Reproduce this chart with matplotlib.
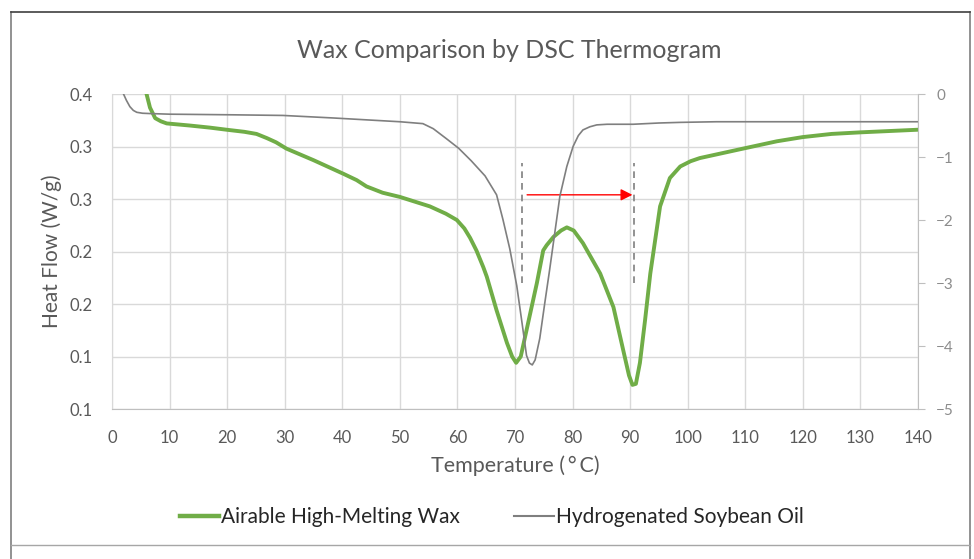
import matplotlib
matplotlib.use("Agg")
import matplotlib.pyplot as plt
from matplotlib.lines import Line2D
from matplotlib.patches import FancyArrowPatch

plt.rcParams['font.family'] = ['Lato', 'DejaVu Sans']

# Airable High-Melting Wax (left axis, W/g)
wax_temp = [5.0, 6.0, 6.6, 7.5, 8.5, 9.5, 11.5, 13.5, 17.0, 19.9, 23.0, 25.1, 26.9, 28.5,
            30.3, 35.0, 40.2, 42.5, 44.2, 47.0, 50.0, 55.2, 58.0, 59.9, 61.2, 62.2, 63.3,
            64.5, 65.1, 66.8, 68.6, 69.5, 70.2, 71.0, 72.0, 73.8, 74.9, 75.5, 76.7, 78.0,
            79.0, 80.2, 81.8, 84.8, 87.1, 88.8, 89.8, 90.4, 91.0, 91.7, 92.6, 93.5, 95.2,
            96.9, 98.7, 100.5, 102.1, 109.6, 115.5, 120.0, 125.0, 130.0, 140.0]
wax_flow = [0.43, 0.40, 0.387, 0.377, 0.374, 0.372, 0.371, 0.370, 0.368, 0.366, 0.364, 0.362,
            0.358, 0.354, 0.348, 0.337, 0.324, 0.318, 0.312, 0.306, 0.302, 0.293, 0.286, 0.280,
            0.272, 0.263, 0.251, 0.235, 0.226, 0.194, 0.163, 0.150, 0.144, 0.150, 0.175, 0.220,
            0.251, 0.256, 0.264, 0.270, 0.273, 0.270, 0.258, 0.229, 0.197, 0.156, 0.132, 0.123,
            0.124, 0.144, 0.185, 0.229, 0.293, 0.320, 0.331, 0.336, 0.339, 0.348, 0.355, 0.359,
            0.362, 0.3635, 0.366]

# Hydrogenated Soybean Oil (right axis)
oil_temp = [1.4, 2.0, 2.5, 3.1, 3.7, 4.3, 5.3, 6.6, 10.0, 21.0, 29.7, 38.4, 44.2, 50.0, 54.0,
            55.8, 58.1, 60.2, 62.4, 64.8, 66.8, 67.9, 69.1, 70.3, 71.2, 72.0, 72.5, 73.0, 73.5,
            74.3, 75.2, 76.0, 77.8, 79.0, 80.1, 81.0, 81.8, 83.0, 84.2, 86.0, 90.5, 95.0, 98.7,
            105.0, 140.0]
oil_flow = [0.12, 0.0, -0.1, -0.2, -0.26, -0.29, -0.305, -0.31, -0.32, -0.33, -0.34, -0.38,
            -0.41, -0.44, -0.47, -0.55, -0.71, -0.86, -1.06, -1.30, -1.60, -1.99, -2.46, -3.04,
            -3.62, -4.15, -4.27, -4.30, -4.22, -3.88, -3.30, -2.80, -1.62, -1.15, -0.83, -0.66,
            -0.57, -0.52, -0.49, -0.48, -0.48, -0.46, -0.45, -0.44, -0.44]

x_ticks = list(range(0, 141, 10))
left_ticks = [0.10, 0.15, 0.20, 0.25, 0.30, 0.35, 0.40]
left_labels = ['0.1', '0.1', '0.2', '0.2', '0.3', '0.3', '0.4']
right_ticks = [-5, -4, -3, -2, -1, 0]

# peak markers
peak_x = [71.3, 90.6]
peak_band = (0.220, 0.334)
arrow_y = 0.304
arrow_from, arrow_to = 72.1, 90.4

green = '#70AD47'
gray = '#7F7F7F'
text_c = '#595959'

fig = plt.figure(figsize=(9.74, 5.59), dpi=100)
ax = fig.add_axes([0.115, 0.2683, 0.8275, 0.5635])
ax2 = ax.twinx()

ax.plot(wax_temp, wax_flow, color=green, lw=2.8, solid_capstyle='round',
        solid_joinstyle='round', label='Airable High-Melting Wax')
ax2.plot(oil_temp, oil_flow, color=gray, lw=1.2, solid_joinstyle='round',
         label='Hydrogenated Soybean Oil')

for px in peak_x:
    ax.plot([px, px], list(peak_band), color=gray, lw=1.2, ls=(0, (4, 3)))
ax.add_patch(FancyArrowPatch((arrow_from, arrow_y), (arrow_to, arrow_y),
                             arrowstyle='-|>,head_length=7,head_width=3.5',
                             color='#FF0000', lw=1.0, shrinkA=0, shrinkB=0))

ax.set_xlim(0, 140)
ax.set_ylim(0.10, 0.40)
ax2.set_ylim(-5, 0)
ax.set_xticks(x_ticks)
ax.set_yticks(left_ticks)
ax.set_yticklabels(left_labels)
ax2.set_yticks(right_ticks)
ax.grid(True, color='#D9D9D9', lw=1.0)
ax.set_axisbelow(True)

for s in ['top', 'right']:
    ax.spines[s].set_visible(False)
ax.spines['left'].set_color('#D9D9D9')
ax.spines['bottom'].set_color('#BFBFBF')
for s in ['top', 'left', 'bottom']:
    ax2.spines[s].set_visible(False)
ax2.spines['right'].set_color('#BFBFBF')

ax.tick_params(axis='x', length=0, labelsize=12, labelcolor=text_c, pad=15)
ax.tick_params(axis='y', length=0, labelsize=12, labelcolor=text_c, pad=14)
ax2.tick_params(axis='y', length=5, color='#BFBFBF', labelsize=11,
                labelcolor='#8C8C8C', pad=8)

ax.set_xlabel('Temperature (\u2009°\u2009C)', fontsize=15.5, color=text_c, labelpad=7)
ax.set_ylabel('Heat Flow (W/g)', fontsize=15, color=text_c, labelpad=5)
fig.text(0.523, 0.91, 'Wax Comparison by DSC Thermogram', ha='center', va='center',
         fontsize=18, color=text_c)

handles = [Line2D([], [], color=green, lw=3.2), Line2D([], [], color=gray, lw=1.5)]
fig.legend(handles, ['Airable High-Melting Wax', 'Hydrogenated Soybean Oil'],
           loc='center', bbox_to_anchor=(0.505, 0.075), ncol=2, frameon=False,
           fontsize=15, labelcolor='#262626', handlelength=1.9, handletextpad=0.1,
           columnspacing=2.6)

# outer chart frame
fc = '#7F7F7F'
fig.add_artist(Line2D([11 / 974, 11 / 974], [0, 1 - 12 / 559], color=fc, lw=1.2))
fig.add_artist(Line2D([970 / 974, 970 / 974], [0, 1 - 12 / 559], color=fc, lw=1.2))
fig.add_artist(Line2D([11 / 974, 970 / 974], [1 - 12 / 559, 1 - 12 / 559], color='#404040', lw=1.2))
fig.add_artist(Line2D([11 / 974, 970 / 974], [1 - 545 / 559, 1 - 545 / 559], color='#A6A6A6', lw=1.0))

fig.savefig('out.png', dpi=100)
